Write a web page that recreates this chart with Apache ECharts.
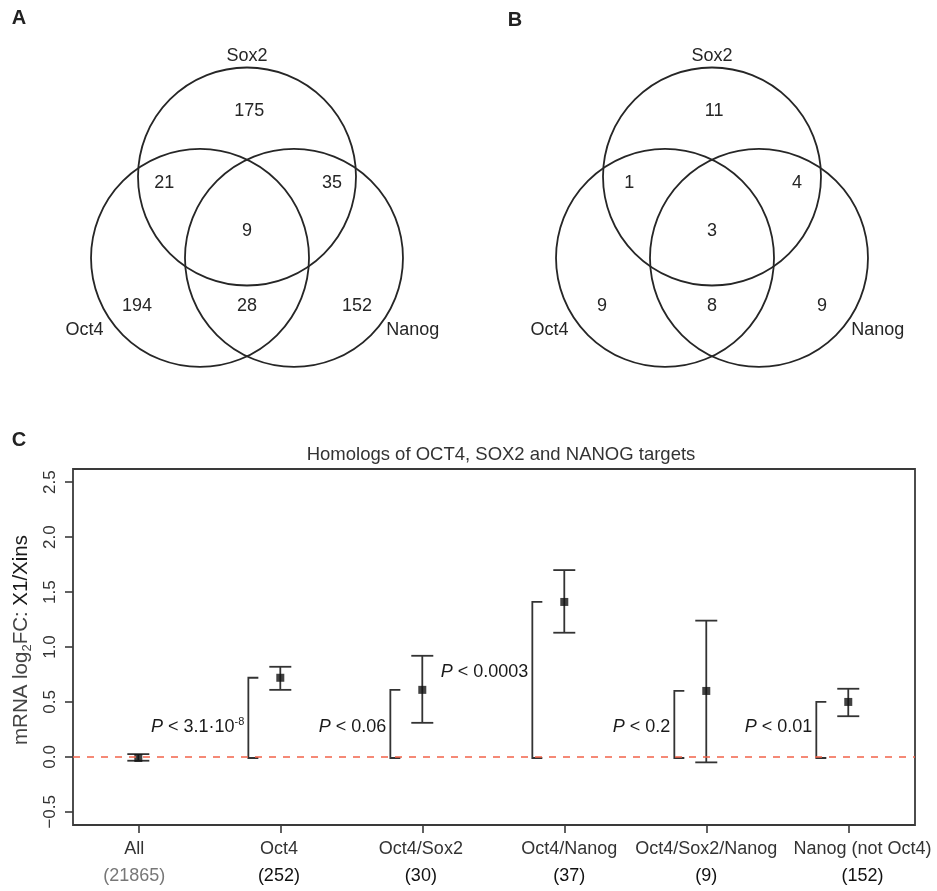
<!DOCTYPE html>
<html>
<head>
<meta charset="utf-8">
<script src="https://cdn.jsdelivr.net/npm/echarts@6/dist/echarts.min.js"></script>
<style>
html, body { margin: 0; padding: 0; background: #fff; }
#main { width: 937px; height: 891px; }
</style>
</head>
<body>
<div id="main"></div>
<script>
// Venn counts, region order: Sox2 only, Oct4&Sox2, Sox2&Nanog, all three, Oct4 only, Oct4&Nanog, Nanog only
var vennSets = ['Sox2', 'Oct4', 'Nanog'];
var vennA = [175, 21, 35, 9, 194, 28, 152];
var vennB = [11, 1, 4, 3, 9, 8, 9];

// panel C: mean log2FC with error bars
var groups = ['All', 'Oct4', 'Oct4/Sox2', 'Oct4/Nanog', 'Oct4/Sox2/Nanog', 'Nanog (not Oct4)'];
var groupN = [21865, 252, 30, 37, 9, 152];
var fcMean = [-0.01, 0.72, 0.61, 1.41, 0.60, 0.50];
var fcLow = [-0.035, 0.61, 0.31, 1.13, -0.05, 0.37];
var fcHigh = [0.025, 0.82, 0.92, 1.70, 1.24, 0.62];
var pText = ['', '3.1\u00b710', '0.06', '0.0003', '0.2', '0.01'];
var pExp = ['', '-8', '', '', '', ''];
var pLabelY = [null, 0.27, 0.27, 0.77, 0.27, 0.27];
var xTicks = [1, 2, 3, 4, 5, 6];
// where the group names sit along x (they are not exactly under the ticks in the original)
var xLabelAt = [0.972, 1.99, 2.99, 4.035, 5.0, 6.1];
var yTicks = [-0.5, 0, 0.5, 1, 1.5, 2, 2.5];

var FONT = '"Liberation Sans", Arial, sans-serif';
var INK = '#262626';

// 3-set venn layout in units of circle radius
var circleCenters = [[0, 0.498], [-0.431, -0.249], [0.431, -0.249]];
var regionAnchors = [[0.02, 1.10], [-0.76, 0.44], [0.78, 0.44], [0, 0], [-1.01, -0.69], [0, -0.69], [1.01, -0.69]];
var setAnchors = [[0, 1.60], [-1.49, -0.91], [1.52, -0.91]];

function vennSeries(idx, counts) {
  var texts = [];
  counts.forEach(function (c, i) { texts.push([regionAnchors[i][0], regionAnchors[i][1], String(c)]); });
  vennSets.forEach(function (s, i) { texts.push([setAnchors[i][0], setAnchors[i][1], s]); });
  return [{
    type: 'custom',
    xAxisIndex: idx, yAxisIndex: idx,
    data: circleCenters,
    renderItem: function (params, api) {
      var c = api.coord([api.value(0), api.value(1)]);
      var r = api.size([1, 0])[0];
      return { type: 'circle', shape: { cx: c[0], cy: c[1], r: r },
        style: { fill: 'none', stroke: INK, lineWidth: 1.8 } };
    }
  }, {
    type: 'custom',
    xAxisIndex: idx, yAxisIndex: idx,
    data: texts,
    renderItem: function (params, api) {
      var c = api.coord([api.value(0), api.value(1)]);
      return { type: 'text', x: c[0], y: c[1],
        style: { text: texts[params.dataIndex][2], fill: INK, font: '18px ' + FONT,
          align: 'center', verticalAlign: 'middle' } };
    }
  }];
}

var chart = echarts.init(document.getElementById('main'));

var hiddenAxis = function (idx, min, max) {
  return { gridIndex: idx, type: 'value', min: min, max: max, show: false };
};

var errData = groups.map(function (g, i) { return [i + 1, fcLow[i], fcHigh[i]]; });
var bracketData = [];
for (var i = 1; i < groups.length; i++) {
  bracketData.push([i + 1 - 0.225, fcMean[0], fcMean[i], pLabelY[i], i]);
}

var option = {
  animation: false,
  backgroundColor: '#fff',
  graphic: [
    { type: 'text', x: 19, y: 18, style: { text: 'A', font: 'bold 20px ' + FONT, fill: '#222', align: 'center', verticalAlign: 'middle' } },
    { type: 'text', x: 515, y: 20, style: { text: 'B', font: 'bold 20px ' + FONT, fill: '#222', align: 'center', verticalAlign: 'middle' } },
    { type: 'text', x: 19, y: 440, style: { text: 'C', font: 'bold 20px ' + FONT, fill: '#222', align: 'center', verticalAlign: 'middle' } },
    { type: 'text', x: 501, y: 455, style: { text: 'Homologs of OCT4, SOX2 and NANOG targets', font: '18.5px ' + FONT, fill: '#333', align: 'center', verticalAlign: 'middle' } }
  ],
  grid: [
    { left: 50.8, top: 34.6, width: 392.4, height: 359.7 },
    { left: 515.8, top: 34.6, width: 392.4, height: 359.7 },
    { left: 73, top: 469, right: 22, bottom: 66, show: true, borderColor: '#3a3a3a', borderWidth: 1.8, backgroundColor: 'transparent' }
  ],
  xAxis: [
    hiddenAxis(0, -1.8, 1.8),
    hiddenAxis(1, -1.8, 1.8),
    {
      gridIndex: 2, type: 'value', min: 0.54, max: 6.47,
      axisLine: { show: false, onZero: false },
      splitLine: { show: false },
      axisTick: { show: true, length: 8, customValues: xTicks, lineStyle: { color: '#3a3a3a', width: 1.6 } },
      axisLabel: {
        customValues: xLabelAt, margin: 11,
        hideOverlap: false, showMinLabel: true, showMaxLabel: true,
        formatter: function (v) {
          var k = Math.round(v) - 1;
          return '{n|' + groups[k] + '}\n{' + (k === 0 ? 'g' : 'c') + '|(' + groupN[k] + ')}';
        },
        rich: {
          n: { fontSize: 18, fontFamily: FONT, color: '#333', lineHeight: 27 },
          c: { fontSize: 18, fontFamily: FONT, color: '#111', lineHeight: 27 },
          g: { fontSize: 18, fontFamily: FONT, color: '#777', lineHeight: 27 }
        }
      }
    }
  ],
  yAxis: [
    hiddenAxis(0, -1.5, 1.8),
    hiddenAxis(1, -1.5, 1.8),
    {
      gridIndex: 2, type: 'value', min: -0.62, max: 2.62,
      axisLine: { show: false, onZero: false },
      splitLine: { show: false },
      axisTick: { show: true, length: 8, customValues: yTicks, lineStyle: { color: '#3a3a3a', width: 1.6 } },
      axisLabel: {
        customValues: yTicks, rotate: 90, margin: 14,
        fontSize: 17, fontFamily: FONT, color: '#333',
        formatter: function (v) { return v.toFixed(1).replace('-', '\u2212'); }
      },
      name: '{a|mRNA log}{s|2}{a|FC: }{b|X1/Xins}',
      nameLocation: 'middle', nameRotate: 90, nameGap: 34,
      nameTextStyle: {
        padding: [0, 0, 0, 14],
        rich: {
          a: { fontSize: 20.5, fontFamily: FONT, color: '#444' },
          s: { fontSize: 13, fontFamily: FONT, color: '#444', padding: [12, 0, 0, 0] },
          b: { fontSize: 20.5, fontFamily: FONT, color: '#1a1a1a' }
        }
      }
    }
  ],
  series: vennSeries(0, vennA).concat(vennSeries(1, vennB)).concat([
    {
      type: 'custom',
      xAxisIndex: 2, yAxisIndex: 2,
      data: errData,
      z: 3,
      renderItem: function (params, api) {
        var lo = api.coord([api.value(0), api.value(1)]);
        var hi = api.coord([api.value(0), api.value(2)]);
        var w = 11;
        var st = { stroke: '#333', lineWidth: 1.8, fill: 'none' };
        return { type: 'group', children: [
          { type: 'line', shape: { x1: lo[0], y1: lo[1], x2: hi[0], y2: hi[1] }, style: st },
          { type: 'line', shape: { x1: lo[0] - w, y1: lo[1], x2: lo[0] + w, y2: lo[1] }, style: st },
          { type: 'line', shape: { x1: hi[0] - w, y1: hi[1], x2: hi[0] + w, y2: hi[1] }, style: st }
        ] };
      }
    },
    {
      type: 'custom',
      xAxisIndex: 2, yAxisIndex: 2,
      data: bracketData,
      z: 3,
      renderItem: function (params, api) {
        var b = api.coord([api.value(0), api.value(1)]);
        var t = api.coord([api.value(0), api.value(2)]);
        var ly = api.coord([api.value(0), api.value(3)])[1];
        var k = api.value(4);
        var tick = 10;
        var txt = '{i|P} < ' + pText[k] + (pExp[k] ? '{s|' + pExp[k] + '}' : '');
        return { type: 'group', children: [
          { type: 'polyline', shape: { points: [[t[0] + tick, t[1]], [t[0], t[1]], [b[0], b[1]], [b[0] + tick, b[1]]] },
            style: { stroke: '#333', lineWidth: 1.8, fill: 'none' } },
          { type: 'text', x: t[0] - 4, y: ly,
            style: { text: txt, fill: '#1a1a1a', font: '18px ' + FONT, align: 'right', verticalAlign: 'middle',
              rich: {
                i: { fontStyle: 'italic', fontSize: 18, fontFamily: FONT, fill: '#1a1a1a' },
                s: { fontSize: 11, fontFamily: FONT, fill: '#1a1a1a', padding: [0, 0, 10, 0] }
              } } }
        ] };
      }
    },
    {
      type: 'scatter',
      xAxisIndex: 2, yAxisIndex: 2,
      data: fcMean.map(function (m, i) { return [i + 1, m]; }),
      symbol: 'rect', symbolSize: 8,
      itemStyle: { color: '#111' },
      z: 4,
      markLine: {
        silent: true, symbol: 'none', label: { show: false },
        lineStyle: { color: '#f2634a', type: [7, 7], width: 1.6 },
        data: [{ yAxis: 0 }]
      }
    }
  ])
};

chart.setOption(option);
</script>
</body>
</html>
